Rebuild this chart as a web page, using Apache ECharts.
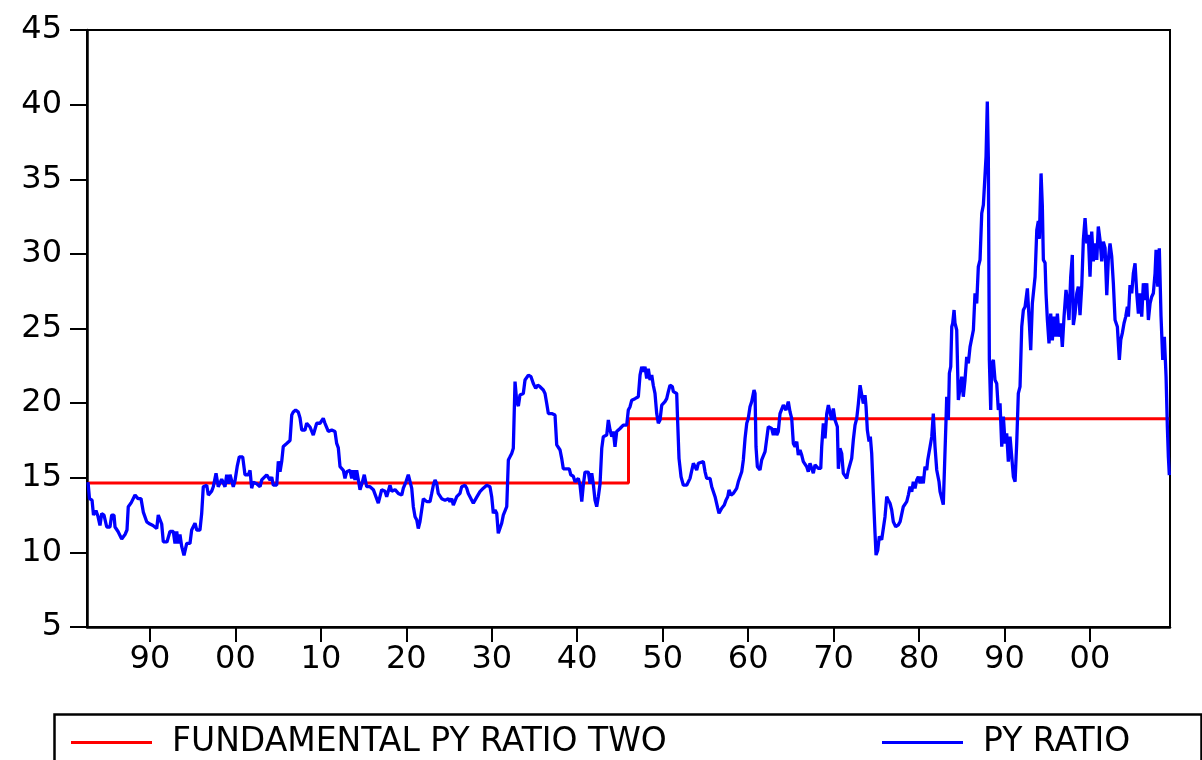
<!DOCTYPE html>
<html><head><meta charset="utf-8">
<script src="https://cdn.jsdelivr.net/npm/echarts@6/dist/echarts.min.js"></script>
<style>html,body{margin:0;padding:0;background:#fff}#c{width:1202px;height:760px}</style>
</head><body><div id="c"></div>
<script>
const seriesNames = ['FUNDAMENTAL PY RATIO TWO', 'PY RATIO'];
const xTickYears = [1890, 1900, 1910, 1920, 1930, 1940, 1950, 1960, 1970, 1980, 1990, 2000];
const yMin = 5, yMax = 45, yStep = 5;
const xMin = 1882.63, xMax = 2009.37;

// Fundamental PY ratio two: a step series
const fundYears = [1882.75, 1946.0, 2009.29];
const fundValues = [14.65, 18.95, 18.95];

// PY ratio
const years = [
1882.75,1882.92,1883.22,1883.39,1883.68,1883.92,1884.15,1884.35,1884.62,1884.94,
1885.32,1885.52,1885.79,1885.91,1886.26,1886.69,1887.08,1887.31,1887.46,1887.78,
1888.25,1888.60,1888.95,1889.22,1889.62,1890.00,1890.35,1890.79,1890.97,1891.17,
1891.37,1891.56,1891.99,1892.15,1892.34,1892.73,1892.93,1893.13,1893.31,1893.51,
1893.71,1893.98,1894.30,1894.68,1894.88,1895.27,1895.47,1895.85,1896.05,1896.24,
1896.64,1896.83,1897.22,1897.41,1897.73,1897.99,1898.39,1898.78,1898.98,1899.17,
1899.37,1899.56,1899.75,1899.95,1900.22,1900.45,1900.85,1901.12,1901.51,1901.71,
1901.90,1902.09,1902.49,1902.68,1902.88,1903.08,1903.66,1904.05,1904.25,1904.43,
1904.83,1905.02,1905.22,1905.42,1905.60,1906.00,1906.39,1906.59,1906.77,1907.05,
1907.36,1907.56,1907.76,1908.14,1908.34,1908.73,1909.11,1909.51,1909.90,1910.28,
1910.48,1910.87,1911.27,1911.65,1911.85,1912.04,1912.24,1912.63,1912.82,1913.02,
1913.41,1913.61,1913.80,1913.99,1914.19,1914.38,1914.58,1914.85,1915.08,1915.36,
1915.75,1916.14,1916.33,1916.72,1917.12,1917.51,1917.70,1918.09,1918.29,1918.68,
1919.06,1919.46,1919.65,1919.96,1920.23,1920.43,1920.63,1920.82,1921.02,1921.22,
1921.40,1921.60,1921.80,1921.99,1922.39,1922.77,1922.97,1923.16,1923.36,1923.56,
1923.74,1924.14,1924.53,1924.91,1925.11,1925.31,1925.50,1925.70,1925.90,1926.08,
1926.28,1926.48,1926.87,1927.07,1927.25,1927.45,1927.84,1928.24,1928.62,1929.01,
1929.41,1929.79,1929.99,1930.18,1930.38,1930.58,1930.76,1930.96,1931.16,1931.35,
1931.55,1931.75,1931.94,1932.13,1932.33,1932.52,1932.72,1932.92,1933.11,1933.30,
1933.69,1933.89,1934.28,1934.59,1934.86,1935.14,1935.38,1935.64,1936.03,1936.23,
1936.43,1936.62,1937.01,1937.40,1937.60,1937.99,1938.18,1938.37,1938.77,1939.07,
1939.24,1939.54,1939.74,1939.94,1940.13,1940.33,1940.53,1940.71,1940.91,1941.30,
1941.50,1941.70,1941.88,1942.08,1942.28,1942.47,1942.67,1942.87,1943.05,1943.45,
1943.64,1943.84,1944.04,1944.22,1944.42,1944.62,1945.01,1945.39,1945.79,1945.98,
1946.18,1946.38,1946.76,1947.15,1947.35,1947.55,1947.73,1947.93,1948.13,1948.32,
1948.52,1948.72,1948.90,1949.10,1949.30,1949.49,1949.69,1949.89,1950.27,1950.47,
1950.66,1950.86,1951.13,1951.25,1951.64,1951.76,1951.91,1952.15,1952.42,1952.81,
1953.20,1953.40,1953.59,1953.98,1954.17,1954.76,1954.96,1955.15,1955.54,1955.74,
1956.13,1956.44,1956.59,1956.91,1957.21,1957.41,1957.61,1957.76,1958.00,1958.27,
1958.47,1958.66,1958.85,1959.05,1959.25,1959.44,1959.64,1959.84,1960.02,1960.22,
1960.42,1960.69,1960.81,1960.92,1961.08,1961.39,1961.59,1961.98,1962.18,1962.36,
1962.76,1962.95,1963.15,1963.35,1963.53,1963.73,1963.93,1964.12,1964.43,1964.70,
1964.90,1965.10,1965.29,1965.49,1965.69,1965.87,1966.07,1966.27,1966.46,1966.86,
1967.04,1967.24,1967.44,1967.63,1967.83,1968.21,1968.50,1968.61,1968.80,1969.00,
1969.20,1969.39,1969.58,1969.78,1969.97,1970.17,1970.44,1970.56,1970.75,1970.95,
1971.14,1971.54,1971.73,1971.92,1972.12,1972.31,1972.51,1972.71,1972.90,1973.10,
1973.29,1973.48,1973.68,1973.80,1973.95,1974.15,1974.30,1974.46,1974.65,1974.85,
1974.97,1975.17,1975.35,1975.63,1975.82,1976.02,1976.22,1976.41,1976.60,1976.80,
1976.99,1977.27,1977.58,1977.78,1977.98,1978.16,1978.56,1978.75,1978.95,1979.15,
1979.33,1979.53,1979.73,1979.92,1980.12,1980.32,1980.50,1980.70,1980.90,1981.02,
1981.29,1981.49,1981.67,1981.87,1982.07,1982.34,1982.46,1982.66,1982.84,1983.16,
1983.24,1983.43,1983.55,1983.71,1983.83,1983.94,1984.10,1984.21,1984.41,1984.60,
1984.80,1985.00,1985.18,1985.38,1985.58,1985.77,1985.97,1986.17,1986.36,1986.55,
1986.75,1986.94,1987.14,1987.34,1987.53,1987.72,1987.84,1987.99,1988.11,1988.23,
1988.39,1988.51,1988.70,1988.89,1989.09,1989.28,1989.48,1989.68,1989.87,1990.07,
1990.26,1990.45,1990.65,1990.85,1991.04,1991.24,1991.43,1991.62,1991.82,1992.02,
1992.21,1992.41,1992.68,1992.91,1993.07,1993.26,1993.58,1993.78,1993.96,1994.08,
1994.28,1994.43,1994.55,1994.75,1994.86,1995.02,1995.21,1995.41,1995.60,1995.80,
1996.00,1996.19,1996.38,1996.58,1996.77,1996.97,1997.20,1997.36,1997.55,1997.75,
1997.94,1998.06,1998.26,1998.46,1998.64,1998.84,1999.04,1999.23,1999.43,1999.63,
1999.81,2000.01,2000.21,2000.40,2000.60,2000.80,2000.98,2001.18,2001.38,2001.57,
2001.77,2001.97,2002.15,2002.35,2002.55,2002.74,2002.94,2003.21,2003.44,2003.61,
2003.79,2003.99,2004.19,2004.38,2004.50,2004.69,2004.89,2005.08,2005.28,2005.48,
2005.67,2005.87,2006.06,2006.25,2006.45,2006.65,2006.84,2007.04,2007.23,2007.42,
2007.62,2007.74,2007.94,2008.12,2008.32,2008.52,2008.71,2008.91,2009.06,2009.18,
2009.29
];
const pyRatio = [
14.7,13.6,13.5,12.5,12.8,12.4,11.8,12.6,12.5,11.7,
11.7,12.5,12.5,11.7,11.4,10.9,11.2,11.5,13.06,13.3,
13.84,13.6,13.6,12.7,12.05,11.9,11.8,11.6,12.5,12.5,
11.9,10.7,10.7,10.6,11.4,11.4,10.6,11.4,10.6,11.2,
10.4,9.8,10.6,10.6,11.5,11.96,11.5,11.5,12.6,14.4,
14.5,13.84,14.1,14.4,15.3,14.4,14.9,14.4,15.2,14.6,
15.2,14.8,14.4,14.8,15.8,16.4,16.4,15.2,15.2,15.5,
14.3,14.7,14.6,14.5,14.4,14.85,15.2,14.85,15.05,14.5,
14.5,16.1,15.4,16.1,17.1,17.3,17.5,19.2,19.4,19.54,
19.4,19.0,18.2,18.2,18.65,18.4,17.86,18.65,18.65,18.98,
18.65,18.1,18.2,18.1,17.3,17.0,15.74,15.5,14.96,15.4,
15.5,14.96,15.5,14.85,15.5,15.5,14.2,14.7,15.2,14.4,
14.4,14.2,14.1,13.3,14.2,14.1,13.73,14.5,14.1,14.2,
13.95,13.84,14.3,14.73,15.2,15.2,14.3,13.06,12.39,12.17,
11.6,12.06,12.17,13.6,13.4,13.4,13.95,14.5,14.85,14.6,
13.95,13.6,13.5,13.6,13.4,13.6,13.17,13.06,13.73,13.6,
13.95,14.4,14.5,14.3,13.95,13.84,13.29,13.7,14.07,14.3,
14.5,14.4,13.73,12.62,12.84,12.62,11.28,11.4,11.95,12.5,
12.62,13.06,16.19,16.4,16.63,16.97,21.44,20.1,19.8,20.54,
20.65,21.55,21.88,21.77,21.32,20.99,21.2,21.1,20.88,20.65,
19.97,19.3,19.3,19.2,17.2,16.86,16.3,15.6,15.6,15.6,
15.2,15.1,14.73,14.6,14.96,14.5,13.4,14.5,15.38,15.38,
14.6,15.3,14.6,13.5,13.06,13.73,14.6,16.97,17.75,17.86,
18.87,18.2,17.75,18.1,17.08,18.1,18.3,18.53,18.53,19.54,
19.76,20.2,20.3,20.43,21.88,22.44,22.1,22.44,21.65,22.3,
21.55,21.88,21.2,20.65,19.3,18.65,18.87,19.87,20.1,20.3,
20.77,21.2,21.1,20.77,20.65,18.65,16.3,15.07,14.5,14.5,
14.96,15.07,15.97,15.52,15.97,16.08,15.4,14.96,14.96,14.4,
13.73,12.96,12.62,12.96,13.17,13.5,13.73,14.18,13.84,13.95,
13.84,14.29,14.73,15.07,15.4,16.19,17.64,18.65,18.98,19.76,
20.1,20.88,20.65,17.08,15.74,15.52,16.2,16.75,16.86,18.42,
18.3,17.86,18.3,17.86,18.1,19.3,19.42,19.87,19.53,20.1,
19.42,18.98,17.3,17.08,17.42,16.52,16.86,16.52,16.08,15.74,
15.4,15.97,15.86,15.3,15.86,15.63,15.63,17.08,18.65,17.64,
19.3,19.87,19.76,18.87,19.64,18.87,18.42,15.6,16.97,16.63,
15.3,14.96,15.5,15.6,16.3,17.53,18.53,18.98,19.97,21.2,
21.32,19.97,20.54,19.76,18.2,17.42,17.75,16.63,13.95,11.28,
9.82,10.15,11.06,10.84,10.92,12.39,13.73,13.5,13.29,12.84,
12.05,11.72,11.84,12.05,12.17,13.06,13.4,13.84,14.4,14.07,
14.73,14.29,14.85,15.07,14.62,15.07,14.62,15.74,15.52,16.19,
17.08,17.75,19.3,17.08,15.52,14.73,14.07,14.18,13.2,18.87,
20.43,18.87,22.0,22.44,25.12,25.35,26.24,25.35,24.9,20.21,
20.21,21.77,20.43,21.55,23.1,22.66,23.77,23.77,24.9,27.36,
26.68,29.15,29.6,32.72,33.28,33.39,36.5,40.2,36.5,22.89,
19.54,22.66,22.89,21.55,21.32,19.54,19.98,17.08,19.1,17.3,
17.97,16.08,17.75,16.4,15.07,14.73,17.3,20.65,21.1,25.12,
26.24,26.46,27.69,25.35,23.55,26.68,28.47,31.6,32.2,31.0,
35.39,33.2,29.6,29.4,27.36,25.57,24.0,26.0,24.2,25.8,
24.45,26.0,24.45,25.35,23.77,25.8,27.58,26.9,25.57,28.47,
29.93,25.23,26.0,27.36,27.8,25.9,27.8,30.94,32.39,30.7,
31.27,28.47,31.49,29.5,30.7,29.6,31.83,30.94,29.5,30.82,
30.4,27.24,29.6,30.7,29.82,28.03,25.57,25.12,22.89,24.24,
24.69,25.35,25.8,26.46,25.8,27.91,27.36,28.7,29.37,27.36,
26.0,27.36,25.8,28.03,26.9,28.03,25.57,26.68,27.13,27.36,
28.7,30.27,27.8,30.38,25.8,22.89,24.45,21.77,18.42,16.4,
15.18
];

const FONT = 'DejaVu Sans';
const chart = echarts.init(document.getElementById('c'), null, {renderer: 'canvas'});
const legendText = {fontFamily: FONT, fontSize: 33, color: '#000', padding: [0, 0, 0, 15]};
chart.setOption({
  animation: false,
  backgroundColor: '#fff',
  grid: {left: 87, right: 32, top: 30, bottom: 133, show: true, borderColor: '#000', borderWidth: 2, backgroundColor: 'transparent'},
  xAxis: {
    type: 'value', min: xMin, max: xMax,
    splitLine: {show: false},
    axisLine: {show: true, lineStyle: {color: '#000', width: 2.5}},
    axisTick: {show: true, length: 15, lineStyle: {color: '#000', width: 2}, customValues: xTickYears},
    axisLabel: {
      customValues: xTickYears, margin: 17, color: '#000', fontFamily: FONT, fontSize: 32,
      formatter: v => String(Math.round(v) % 100).padStart(2, '0')
    }
  },
  yAxis: {
    type: 'value', min: yMin, max: yMax, interval: yStep,
    splitLine: {show: false},
    axisLine: {show: true, lineStyle: {color: '#000', width: 2.5}},
    axisTick: {show: true, length: 17, lineStyle: {color: '#000', width: 2}},
    axisLabel: {margin: 25, color: '#000', fontFamily: FONT, fontSize: 32}
  },
  legend: [
    {data: [seriesNames[0]], left: 66, top: 721, icon: 'rect', itemWidth: 81, itemHeight: 3, textStyle: legendText, selectedMode: false},
    {data: [seriesNames[1]], left: 877, top: 721, icon: 'rect', itemWidth: 81, itemHeight: 3, textStyle: legendText, selectedMode: false}
  ],
  graphic: [{
    type: 'rect', left: 52, top: 712, z: 10,
    shape: {x: 0, y: 0, width: 1147, height: 70},
    style: {fill: 'none', stroke: '#000', lineWidth: 2.5}
  }],
  series: [
    {
      name: seriesNames[0], type: 'line', step: 'end', symbol: 'none',
      data: fundYears.map((y, i) => [y, fundValues[i]]),
      lineStyle: {color: '#ff0000', width: 3}, itemStyle: {color: '#ff0000'}
    },
    {
      name: seriesNames[1], type: 'line', symbol: 'none',
      data: years.map((y, i) => [y, pyRatio[i]]),
      lineStyle: {color: '#0000ff', width: 3.3}, itemStyle: {color: '#0000ff'}
    }
  ]
});
</script></body></html>
